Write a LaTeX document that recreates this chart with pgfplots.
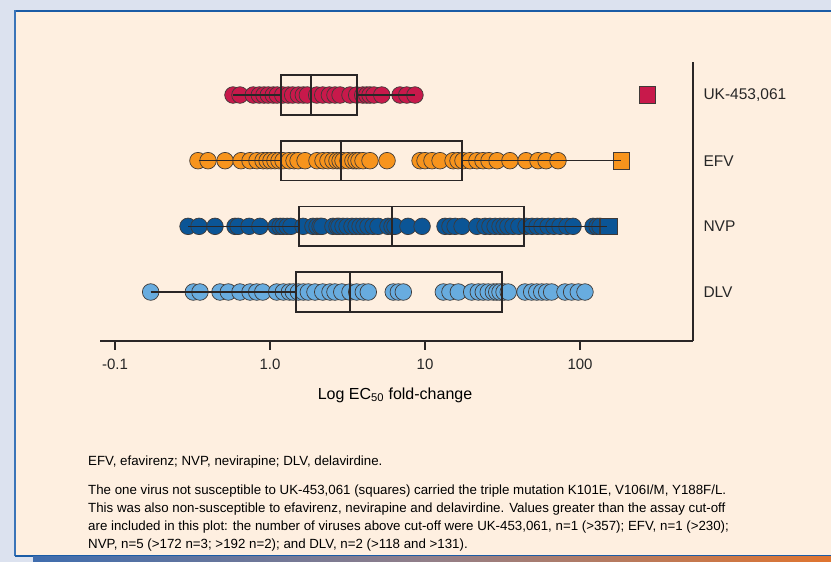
\documentclass[border=0pt]{standalone}
\usepackage{fontspec}
\setmainfont{Liberation Sans}
\usepackage{pgfplots}
\pgfplotsset{compat=1.18}
\definecolor{outerbg}{HTML}{DCE2EF}
\definecolor{panel}{HTML}{FEEFE0}
\definecolor{border}{HTML}{1B5CA6}
\definecolor{lborder}{HTML}{3A74B8}
\definecolor{ukc}{HTML}{C8194B}
\definecolor{efvc}{HTML}{F7941D}
\definecolor{nvpc}{HTML}{0B5596}
\definecolor{dlvc}{HTML}{68ACDF}
\definecolor{edgec}{HTML}{3F3A38}
\definecolor{axc}{HTML}{2A2626}
\definecolor{gl}{HTML}{3F6DAE}
\definecolor{gm}{HTML}{937F88}
\definecolor{gr}{HTML}{E0742F}
\pgfplotsset{
  dots/.style={only marks, mark=*, mark size=8.3pt, mark options={draw=edgec, line width=0.7pt, fill=#1}},
  sq/.style={only marks, mark=square*, mark size=8.2pt, mark options={draw=edgec, line width=0.7pt, fill=#1}},
  boxl/.style={draw=axc, line width=1.7pt, no markers, line join=miter},
  whisk/.style={draw=axc, line width=1.6pt, no markers},
  common/.style={
    at={(100pt,221pt)}, anchor=south west,
    scale only axis, width=593pt, height=279pt,
    xmin=-1.097, xmax=2.729, ymin=0.254, ymax=4.503, clip=false},
}
\begin{document}
\begin{tikzpicture}[x=1pt,y=1pt]
\useasboundingbox (0,0) rectangle (831,562);
\fill[outerbg] (0,0) rectangle (831,562);
\fill[panel] (15,6) rectangle (831,552);
\draw[border, line width=2pt] (15,551) -- (831,551);
\draw[lborder, line width=1.5pt] (15,6) -- (15,552);
\draw[border, line width=1.5pt] (15,6) -- (831,6);
\shade[left color=gl, right color=gr, middle color=gm] (33,0) rectangle (831,5.2);
\begin{scope}[every node/.style={anchor=base west, inner sep=0pt, font=\fontsize{13.3}{16}\selectfont}]
\node at (88,96) {EFV, efavirenz; NVP, nevirapine; DLV, delavirdine.};
\node at (88,67) {The one virus not susceptible to UK-453,061 (squares) carried the triple mutation K101E, V106I/M, Y188F/L.};
\node at (88,49) {This was also non-susceptible to efavirenz, nevirapine and delavirdine. Values greater than the assay cut-off};
\node at (88,31) {are included in this plot: the number of viruses above cut-off were UK-453,061, n=1 (>357); EFV, n=1 (>230);};
\node at (88,13) {NVP, n=5 (>172 n=3; >192 n=2); and DLV, n=2 (>118 and >131).};
\end{scope}
\begin{axis}[
  common,
  axis x line=bottom, axis y line=right,
  x axis line style={-, line width=1.8pt, color=axc},
  y axis line style={-, line width=1.8pt, color=axc},
  xtick={-1,0,1,2}, xticklabels={-0.1,1.0,10,100},
  tick align=outside, major tick length=9pt,
  xtick style={line width=1.8pt, color=axc},
  ytick={1,2,3,4}, yticklabels={DLV,NVP,EFV,{UK-453,061}},
  ytick style={draw=none},
  xticklabel style={font=\fontsize{15}{17}\selectfont, text=black!85, yshift=-5pt},
  yticklabel style={font=\fontsize{15.5}{17}\selectfont, text=black!85, anchor=west, xshift=-2pt},
  xlabel={Log EC\textsubscript{50} fold-change},
  xlabel style={font=\fontsize{16}{18}\selectfont, at={(axis description cs:0.4975,0)}, anchor=center, yshift=-54pt},
]
% DLV right whisker below dots
\addplot[whisk] coordinates {(1.495,1) (2.032,1)};
% UK-453,061
\addplot[dots=ukc] coordinates {
(-0.239,4) (-0.194,4) (-0.108,4) (-0.069,4) (-0.039,4) (-0.011,4) (0.021,4) (0.047,4) (0.082,4) (0.118,4)
(0.146,4) (0.183,4) (0.215,4) (0.241,4) (0.301,4) (0.340,4) (0.383,4) (0.419,4) (0.452,4) (0.516,4)
(0.559,4) (0.598,4) (0.624,4) (0.645,4) (0.671,4) (0.721,4) (0.839,4) (0.882,4) (0.935,4)};
\addplot[sq=ukc] coordinates {(2.435,4)};
% EFV
\addplot[dots=efvc] coordinates {
(-0.465,3) (-0.400,3) (-0.290,3) (-0.187,3) (-0.129,3) (-0.084,3) (-0.045,3) (-0.019,3) (0.006,3) (0.032,3)
(0.058,3) (0.084,3) (0.123,3) (0.155,3) (0.181,3) (0.226,3) (0.303,3) (0.342,3) (0.374,3) (0.406,3)
(0.432,3) (0.452,3) (0.471,3) (0.503,3) (0.535,3) (0.555,3) (0.574,3) (0.600,3) (0.645,3) (0.755,3)
(0.968,3) (1.000,3) (1.045,3) (1.097,3) (1.181,3) (1.213,3) (1.245,3) (1.290,3) (1.335,3) (1.374,3)
(1.413,3) (1.465,3) (1.548,3) (1.652,3) (1.729,3) (1.781,3) (1.858,3)};
\addplot[sq=efvc] coordinates {(2.265,3)};
% NVP
\addplot[dots=nvpc] coordinates {
(-0.529,2) (-0.458,2) (-0.355,2) (-0.226,2) (-0.206,2) (-0.135,2) (-0.065,2) (0.039,2) (0.065,2) (0.084,2)
(0.110,2) (0.135,2) (0.213,2) (0.277,2) (0.303,2) (0.323,2) (0.335,2) (0.406,2) (0.432,2) (0.445,2)
(0.471,2) (0.497,2) (0.529,2) (0.555,2) (0.581,2) (0.606,2) (0.632,2) (0.665,2) (0.697,2) (0.761,2)
(0.787,2) (0.806,2) (0.890,2) (0.981,2) (1.129,2) (1.161,2) (1.194,2) (1.239,2) (1.335,2) (1.387,2)
(1.419,2) (1.452,2) (1.484,2) (1.510,2) (1.535,2) (1.568,2) (1.606,2) (1.652,2) (1.690,2) (1.723,2)
(1.755,2) (1.794,2) (1.832,2) (1.871,2) (1.916,2) (1.955,2) (2.084,2) (2.110,2) (2.129,2)};
\addplot[sq=nvpc] coordinates {(2.175,2) (2.185,2)};
% DLV
\addplot[dots=dlvc] coordinates {
(-0.770,1) (-0.495,1) (-0.452,1) (-0.323,1) (-0.269,1) (-0.194,1) (-0.129,1) (-0.086,1) (-0.047,1) (0.043,1)
(0.086,1) (0.125,1) (0.150,1) (0.183,1) (0.215,1) (0.247,1) (0.290,1) (0.340,1) (0.387,1) (0.419,1)
(0.463,1) (0.516,1) (0.559,1) (0.602,1) (0.634,1) (0.795,1) (0.828,1) (0.860,1) (1.118,1) (1.161,1)
(1.215,1) (1.301,1) (1.344,1) (1.376,1) (1.408,1) (1.441,1) (1.463,1) (1.484,1) (1.510,1) (1.537,1)
(1.645,1) (1.688,1) (1.721,1) (1.753,1) (1.785,1) (1.817,1) (1.903,1) (1.946,1) (1.989,1) (2.032,1)};
\end{axis}
% overlay axis: boxes and whiskers on top of the dots
\begin{axis}[common, hide axis]
\addplot[boxl] coordinates {(0.069,3.7) (0.559,3.7) (0.559,4.3) (0.069,4.3)} --cycle;
\addplot[boxl] coordinates {(0.265,3.7) (0.265,4.3)};
\addplot[whisk] coordinates {(-0.239,4) (0.069,4)};
\addplot[whisk] coordinates {(0.559,4) (0.935,4)};
\addplot[boxl] coordinates {(0.071,2.7) (1.237,2.7) (1.237,3.3) (0.071,3.3)} --cycle;
\addplot[boxl] coordinates {(0.458,2.7) (0.458,3.3)};
\addplot[whisk] coordinates {(-0.461,3) (0.071,3)};
\addplot[whisk] coordinates {(1.237,3) (2.265,3)};
\addplot[boxl] coordinates {(0.189,1.7) (1.639,1.7) (1.639,2.3) (0.189,2.3)} --cycle;
\addplot[boxl] coordinates {(0.789,1.7) (0.789,2.3)};
\addplot[whisk] coordinates {(-0.529,2) (0.189,2)};
\addplot[whisk] coordinates {(1.639,2) (2.172,2)};
\addplot[boxl] coordinates {(0.166,0.7) (1.495,0.7) (1.495,1.3) (0.166,1.3)} --cycle;
\addplot[boxl] coordinates {(0.516,0.7) (0.516,1.3)};
\addplot[whisk] coordinates {(-0.770,1) (0.166,1)};
\end{axis}
\end{tikzpicture}
\end{document}
